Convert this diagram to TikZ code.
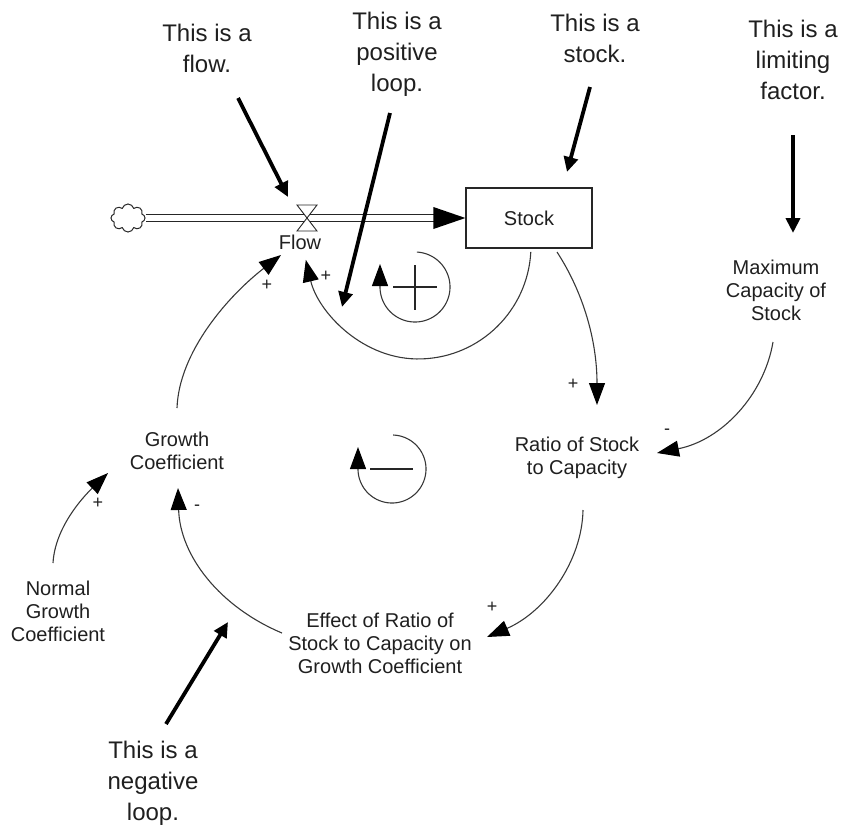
\documentclass[tikz,border=0pt]{standalone}
\usepackage{fontspec}
\setmainfont{Liberation Sans}
\usetikzlibrary{arrows.meta,shapes.symbols}
\begin{document}
\begin{tikzpicture}[x=1pt,y=-1pt,
  lbl/.style={font=\fontsize{20}{23}\selectfont, align=center, inner sep=0pt, text=black!88},
  note/.style={font=\fontsize{24}{31}\selectfont, align=center, inner sep=0pt, text=black!88},
  pol/.style={font=\fontsize{18}{18}\selectfont, inner sep=0pt, text=black!88},
  causal/.style={draw=black!78, line width=1.1pt, -{Triangle[length=22pt,width=16pt,color=black]}},
  pointer/.style={draw=black, line width=3.8pt, -{Triangle[length=15pt,width=14pt]}},
  pipe/.style={draw=black!85, double=white, double distance=5.5pt, line width=1.3pt},
  loopsign/.style={draw=black!85, line width=2.6pt},
]
\useasboundingbox (0,0) rectangle (842,825);

% ---- stock, cloud, flow ----
\node[draw=black!85, line width=1.2pt, minimum width=126pt, minimum height=60pt, lbl] (stock) at (529,218) {Stock};
\node[cloud, cloud puffs=8, aspect=1.25, draw=black!85, line width=1pt, minimum width=34pt, minimum height=28pt, inner sep=2pt] (cloud) at (128,218) {};
\node[lbl] (flow) at (300,242) {Flow};
\coordinate (valve) at (307,218);

\draw[pipe, shorten >=31pt] (cloud) -- (stock.west);
\fill[black] (stock.west) -- ++(-32,-11) -- ++(0,22) -- cycle;
\draw[draw=black!85, fill=white, line width=0.9pt]
  ([shift={(-10,-13)}]valve) -- ([shift={(10,-13)}]valve) -- (valve) -- cycle
  ([shift={(-10,13)}]valve) -- ([shift={(10,13)}]valve) -- (valve) -- cycle;

% ---- auxiliary variables ----
\node[lbl] (growth) at (177,451) {Growth\\Coefficient};
\node[lbl] (normal) at (58,611) {Normal\\Growth\\Coefficient};
\node[lbl] (effect) at (380,643) {Effect of Ratio of\\Stock to Capacity on\\Growth Coefficient};
\node[lbl] (ratio) at (577,458) {Ratio of Stock\\to Capacity};
\node[lbl] (maxcap) at (776,290) {Maximum\\Capacity of\\Stock};

% ---- connector ends ----
\coordinate (growth-out) at (177,408);
\coordinate (flow-in1) at (281,255);
\coordinate (stock-out1) at (530.8,251.9);
\coordinate (flow-in2) at (305.8,259.8);
\coordinate (stock-out2) at (557,252);
\coordinate (ratio-in1) at (597,405);
\coordinate (maxcap-out) at (773,342);
\coordinate (ratio-in2) at (657,453);
\coordinate (ratio-out) at (583,510);
\coordinate (effect-in) at (487,637);
\coordinate (effect-out) at (282,633);
\coordinate (growth-in1) at (178,488);
\coordinate (normal-out) at (53,563);
\coordinate (growth-in2) at (108,473);

% ---- causal links ----
\draw[causal] (growth-out) .. controls (179,352) and (228,296) .. (flow-in1);
\draw[causal] (stock-out1) .. controls (527.7,310.4) and (480.5,356.9) .. (421.9,358.9)
  .. controls (363.3,361.0) and (318,312) .. (flow-in2);
\draw[causal] (stock-out2) .. controls (583,292) and (597,340) .. (ratio-in1);
\draw[causal] (maxcap-out) .. controls (764,395) and (722,440) .. (ratio-in2);
\draw[causal] (ratio-out) .. controls (582,562) and (545,612) .. (effect-in);
\draw[causal] (effect-out) .. controls (220,607) and (180,556) .. (growth-in1);
\draw[causal] (normal-out) .. controls (55,528) and (82,498) .. (growth-in2);

% ---- polarities ----
\node[pol] (p1) at (267,285) {+};
\node[pol] (p2) at (326,276) {+};
\node[pol] (p3) at (573,384) {+};
\node[pol] (p4) at (667,432) {-};
\node[pol] (p5) at (492,607) {+};
\node[pol] (p6) at (197,508) {-};
\node[pol] (p7) at (98,503) {+};

% ---- loop symbols ----
\draw[causal] plot[domain=-87:180, samples=90] ({415+35*cos(\x)},{287+35*sin(\x)}) -- (380,264);
\draw[loopsign] (393,287) -- (437,287) (415,265) -- (415,310);
\draw[causal] plot[domain=-88:180, samples=90] ({392+34*cos(\x)},{469+34*sin(\x)}) -- (358,447);
\draw[loopsign] (370,469) -- (413,469);

% ---- annotations ----
\node[note] (nflow) at (207,48) {This is a\\flow.};
\node[note] (npos) at (397,54) {This is a\\positive\\loop.};
\node[note] (nstock) at (595,38) {This is a\\stock.};
\node[note] (nlimit) at (793,60) {This is a\\limiting\\factor.};
\node[note] (nneg) at (153,783) {This is a\\negative\\loop.};

\coordinate (nflow-tail) at (238,98);
\coordinate (nflow-head) at (288,197);
\coordinate (npos-tail) at (390,113);
\coordinate (npos-head) at (342,307);
\coordinate (nstock-tail) at (590,87);
\coordinate (nstock-head) at (567,172);
\coordinate (nlimit-tail) at (793,135);
\coordinate (nlimit-head) at (793,233);
\coordinate (nneg-tail) at (166,724);
\coordinate (nneg-head) at (228,622);

\draw[pointer] (nflow-tail) -- (nflow-head);
\draw[pointer] (npos-tail) -- (npos-head);
\draw[pointer] (nstock-tail) -- (nstock-head);
\draw[pointer] (nlimit-tail) -- (nlimit-head);
\draw[pointer] (nneg-tail) -- (nneg-head);
\end{tikzpicture}
\end{document}
